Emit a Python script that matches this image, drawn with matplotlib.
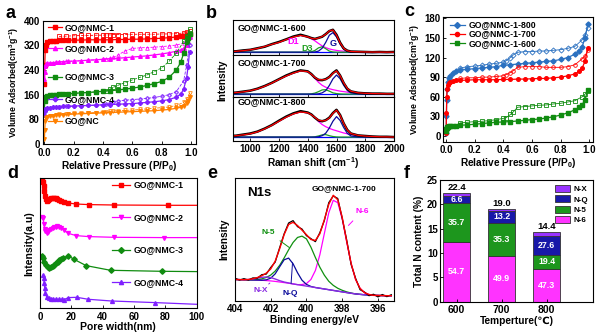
import matplotlib
matplotlib.use("Agg")
import matplotlib.pyplot as plt
import numpy as np

plt.rcParams['font.family'] = ['Liberation Sans', 'DejaVu Sans']
plt.rcParams['font.weight'] = 'bold'
plt.rcParams['axes.labelweight'] = 'bold'
plt.rcParams['mathtext.fontset'] = 'custom'
plt.rcParams['mathtext.rm'] = 'Liberation Sans:bold'
plt.rcParams['mathtext.it'] = 'Liberation Sans:bold'
plt.rcParams['mathtext.bf'] = 'Liberation Sans:bold'
plt.rcParams['mathtext.default'] = 'rm'
plt.rcParams['axes.linewidth'] = 0.8

# ---------------- (a) N2 isotherms ----------------
P_ADS = [0.001, 0.003, 0.006, 0.01, 0.02, 0.04, 0.06, 0.08, 0.1, 0.13, 0.16, 0.2, 0.25, 0.3, 0.35, 0.4,
         0.45, 0.5, 0.55, 0.6, 0.65, 0.7, 0.75, 0.8, 0.85, 0.9, 0.93, 0.95, 0.97, 0.98, 0.99]
P_DES = [0.99, 0.97, 0.95, 0.9, 0.85, 0.8, 0.75, 0.7, 0.65, 0.6, 0.55, 0.5, 0.47, 0.45, 0.42, 0.4,
         0.35, 0.3, 0.25, 0.2, 0.15, 0.1]
ADS_NMC1 = [195, 255, 305, 322, 330, 333, 334, 335, 336, 336, 337, 337, 337, 338, 338, 338, 338, 339, 339, 340,
            340, 341, 342, 343, 345, 347, 349, 351, 353, 355, 358]
DES_NMC1 = [368, 362, 360, 358, 357, 357, 356, 356, 356, 356, 355, 355, 355, 354, 354, 353, 353, 352, 352, 351,
            350, 349]
ADS_NMC2 = [210, 235, 252, 258, 262, 263, 264, 265, 266, 267, 268, 269, 270, 272, 273, 275, 277, 278, 280, 282,
            284, 286, 289, 292, 296, 301, 305, 310, 320, 332, 348]
DES_NMC2 = [350, 335, 327, 321, 318, 316, 314, 313, 312, 310, 302, 288, 281, 278, 276, 275, 273, 272, 270, 269,
            268, 266]
ADS_NMC3 = [110, 140, 150, 154, 157, 158, 159, 160, 161, 162, 163, 164, 166, 167, 169, 171, 173, 175, 178, 181,
            185, 190, 196, 203, 216, 240, 265, 295, 330, 345, 358]
DES_NMC3 = [372, 350, 333, 295, 268, 247, 235, 224, 216, 208, 199, 190, 184, 178, 172, 171, 169, 167, 166, 164,
            162, 161]
ADS_NMC4 = [95, 108, 113, 115, 117, 118, 119, 120, 121, 122, 122, 123, 124, 125, 126, 127, 128, 129, 130, 131,
            133, 135, 137, 140, 144, 152, 162, 178, 215, 250, 300]
DES_NMC4 = [320, 255, 205, 170, 160, 155, 151, 148, 146, 144, 142, 140, 137, 133, 129, 127, 126, 125, 124, 123,
            122, 121]
ADS_NC = [15, 45, 75, 85, 89, 91, 92, 93, 94, 95, 96, 97, 98, 99, 100, 101, 102, 103, 104, 105,
          106, 107, 108, 110, 112, 116, 119, 124, 132, 140, 152]
DES_NC = [165, 145, 135, 125, 120, 118, 116, 114, 112, 110, 109, 108, 107, 106, 105, 104, 102, 101, 100, 99,
          97, 96]
A_NAMES = ['GO@NMC-1', 'GO@NMC-2', 'GO@NMC-3', 'GO@NMC-4', 'GO@NC']
A_LABEL_Y = [378, 311, 218, 145, 75]

# ---------------- (b) Raman ----------------
RAMAN_X = [850, 900, 950, 1000, 1050, 1100, 1150, 1200, 1250, 1300, 1350, 1400, 1425, 1450, 1475, 1500,
           1525, 1550, 1575, 1600, 1625, 1650, 1675, 1700, 1750, 1800, 1850, 1900, 1950, 2000]
MEAS_600 = [0.03, 0.04, 0.08, 0.11, 0.18, 0.25, 0.37, 0.47, 0.59, 0.72, 0.80, 0.71, 0.65, 0.61, 0.66, 0.71,
            0.83, 0.97, 1.03, 0.80, 0.44, 0.18, 0.07, 0.03, 0.02, 0.01, 0.0, 0.01, 0.0, 0.01]
D1_600 = [0.02, 0.04, 0.07, 0.11, 0.17, 0.26, 0.36, 0.45, 0.58, 0.70, 0.77, 0.70, 0.62, 0.52, 0.40, 0.29,
          0.21, 0.15, 0.11, 0.08, 0.06, 0.045, 0.035, 0.027, 0.017, 0.01, 0.006, 0.004, 0.002, 0.0]
D3_600 = [0, 0, 0, 0, 0, 0, 0, 0, 0, 0, 0, 0.005, 0.02, 0.08, 0.20, 0.25,
          0.16, 0.05, 0.01, 0, 0, 0, 0, 0, 0, 0, 0, 0, 0, 0]
G_600 = [0, 0, 0, 0, 0, 0, 0, 0, 0, 0, 0, 0, 0, 0.01, 0.05, 0.18,
         0.45, 0.78, 0.90, 0.70, 0.37, 0.13, 0.03, 0.005, 0, 0, 0, 0, 0, 0]
MEAS_700 = [0.05, 0.06, 0.10, 0.14, 0.22, 0.33, 0.46, 0.61, 0.76, 0.88, 0.97, 0.93, 0.82, 0.67, 0.58, 0.57,
            0.61, 0.70, 0.86, 0.97, 0.76, 0.45, 0.22, 0.11, 0.05, 0.03, 0.02, 0.02, 0.01, 0.01]
D1_700 = [0.04, 0.06, 0.09, 0.14, 0.21, 0.32, 0.45, 0.60, 0.74, 0.86, 0.95, 0.92, 0.80, 0.64, 0.48, 0.36,
          0.28, 0.22, 0.18, 0.15, 0.12, 0.10, 0.08, 0.065, 0.045, 0.03, 0.02, 0.015, 0.01, 0.01]
D3_700 = [0, 0, 0, 0, 0, 0, 0, 0, 0, 0, 0, 0, 0.01, 0.04, 0.10, 0.17,
          0.18, 0.12, 0.05, 0.02, 0.005, 0, 0, 0, 0, 0, 0, 0, 0, 0]
G_700 = [0, 0, 0, 0, 0, 0, 0, 0, 0, 0, 0, 0, 0, 0, 0.01, 0.05,
         0.14, 0.35, 0.62, 0.78, 0.63, 0.36, 0.15, 0.05, 0.005, 0, 0, 0, 0, 0]
MEAS_800 = [0.04, 0.05, 0.09, 0.13, 0.20, 0.31, 0.44, 0.60, 0.75, 0.87, 0.95, 0.90, 0.83, 0.71, 0.61, 0.58,
            0.62, 0.71, 0.88, 1.00, 0.81, 0.50, 0.26, 0.13, 0.06, 0.04, 0.02, 0.01, 0.01, 0.0]
D1_800 = [0.03, 0.05, 0.08, 0.12, 0.19, 0.30, 0.43, 0.58, 0.73, 0.85, 0.92, 0.89, 0.82, 0.71, 0.57, 0.46,
          0.38, 0.32, 0.27, 0.23, 0.19, 0.15, 0.12, 0.09, 0.06, 0.035, 0.02, 0.01, 0.005, 0.0]
D3_800 = [0, 0, 0, 0, 0, 0, 0, 0, 0, 0, 0, 0, 0, 0.01, 0.04, 0.08,
          0.09, 0.05, 0.02, 0.005, 0, 0, 0, 0, 0, 0, 0, 0, 0, 0]
G_800 = [0, 0, 0, 0, 0, 0, 0, 0, 0, 0, 0, 0, 0, 0, 0.01, 0.05,
         0.14, 0.33, 0.58, 0.75, 0.61, 0.35, 0.14, 0.04, 0.003, 0, 0, 0, 0, 0]
B_NAMES = ['GO@NMC-1-600', 'GO@NMC-1-700', 'GO@NMC-1-800']

# ---------------- (c) isotherms vs temperature ----------------
P_ADS_C = [0.001, 0.003, 0.005, 0.008, 0.012, 0.02, 0.03, 0.05, 0.07, 0.1, 0.15, 0.2, 0.25, 0.3, 0.35, 0.4,
           0.45, 0.5, 0.55, 0.6, 0.65, 0.7, 0.75, 0.8, 0.85, 0.9, 0.93, 0.95, 0.97, 0.99]
ADS_800 = [5, 30, 55, 72, 82, 88, 92, 96, 99, 101, 102, 103, 104, 105, 106, 108, 109, 110, 111, 112,
           113, 114, 115, 117, 120, 125, 130, 136, 150, 171]
DES_800 = [165, 155, 147, 137, 134, 132, 131, 130, 130, 129, 129, 128, 124, 120, 115, 113, 111, 110, 108, 107,
           106, 104]
ADS_700 = [5, 35, 60, 72, 78, 81, 82, 84, 85, 85, 85.5, 86, 86, 86, 86, 86.5, 86.5, 87, 87, 87.5,
           88, 88, 89, 90, 92, 95, 99, 104, 114, 134]
DES_700 = [132, 122, 118, 109, 106, 105, 105, 105, 106, 106, 106, 105, 100, 97, 94, 92, 91, 90, 90, 89, 89, 88]
ADS_600 = [7, 11, 13, 14, 14.5, 15, 15.2, 15.5, 16, 16.5, 17, 18, 19, 20, 21, 21.5, 22, 23, 24, 25,
           26, 27.5, 29.5, 32, 35.5, 40, 44, 48, 55, 71]
DES_600 = [69, 64, 60, 54, 52, 50, 49, 47.5, 47, 46, 45, 44, 37, 33, 28, 27, 25, 23.5, 22.5, 22, 21, 20]
C_NAMES = ['GO@NMC-1-800', 'GO@NMC-1-700', 'GO@NMC-1-600']

# ---------------- (d) pore size distribution ----------------
PW_1 = [1.5, 2.0, 2.4, 2.8, 3.2, 3.7, 4.3, 5.0, 6.0, 7.0, 8.0, 9.0, 10.0, 11.0, 12.0, 13.5, 15.0, 18.0, 23.0,
        31.0, 47.0, 82.0, 100]
PSD_1 = [25.3, 23.7, 19.7, 14.3, 9.7, 6.0, 4.3, 5.0, 6.3, 7.0, 7.3, 7.3, 7.0, 6.3, 5.7, 4.7, 3.7, 2.3, 1.3,
         0.7, 0.3, 0.0, 0.0]
PW_2 = [1.5, 2.0, 2.5, 3.0, 3.5, 4.2, 5.0, 6.0, 7.0, 8.0, 9.0, 10.0, 11.0, 12.0, 13.5, 15.0, 18.0, 23.0,
        31.0, 47.0, 79.0, 100]
PSD_2 = [21.0, 19.3, 13.3, 8.7, 6.3, 5.0, 5.7, 7.3, 9.0, 10.0, 10.7, 11.0, 11.3, 11.0, 9.7, 7.7, 4.3, 2.0,
         1.0, 0.3, 0.0, 0.0]
PW_3 = [1.1, 1.7, 2.8, 3.8, 4.9, 6.0, 7.0, 8.1, 9.1, 10.2, 11.3, 12.3, 13.4, 14.9, 18.1, 21.7, 29.4, 45.0,
        77.7, 100]
PSD_3 = [16.0, 14.0, 10.0, 6.7, 5.0, 4.0, 4.3, 5.7, 7.0, 8.3, 10.0, 11.3, 12.7, 14.0, 15.7, 12.3, 6.0, 1.3,
         0.3, 0.0]
PW_4 = [2.1, 2.4, 2.7, 3.0, 3.5, 4.2, 5.5, 7.0, 8.5, 10.5, 12.3, 13.8, 15.3, 18.1, 23.4, 30.9, 45.7, 73.4, 100]
PSD_4 = [29.3, 26.0, 21.0, 16.0, 11.0, 7.7, 6.0, 5.3, 5.0, 5.0, 5.0, 5.0, 4.7, 6.7, 7.0, 5.0, 3.3, 1.7, 0.0]
D_NAMES = ['GO@NMC-1', 'GO@NMC-2', 'GO@NMC-3', 'GO@NMC-4']

# ---------------- (e) XPS N1s ----------------
BE = [404.0, 403.75, 403.5, 403.25, 403.0, 402.75, 402.5, 402.25, 402.0, 401.75, 401.5, 401.25, 401.0,
      400.75, 400.5, 400.25, 400.0, 399.75, 399.5, 399.25, 399.0, 398.75, 398.5, 398.25, 398.0, 397.75,
      397.5, 397.25, 397.0, 396.75, 396.5, 396.25, 396.0, 395.75, 395.5, 395.25]
XPS_MEAS = [18.5, 17.0, 18.2, 17.0, 18.8, 18.6, 21.5, 22.0, 27.5, 32.0, 44.0, 55.5, 64.5, 66.5, 61.5, 59.5,
            54.0, 51.5, 49.0, 56.5, 66.5, 81.5, 87.0, 85.0, 68.5, 50.5, 30.0, 18.5, 9.0, 7.0, 4.0, 5.2,
            3.0, 5.0, 3.2, 4.8]
XPS_BG = [17.5, 17.4, 17.3, 17.2, 17.1, 17.0, 16.8, 16.6, 16.3, 15.9, 15.4, 14.9, 14.4, 13.8, 13.2, 12.6,
          12.0, 11.4, 10.8, 10.2, 9.6, 9.0, 8.4, 7.8, 7.2, 6.6, 6.0, 5.5, 5.1, 4.8, 4.5, 4.3, 4.2, 4.1,
          4.0, 4.0]
N6 = [0, 0, 0, 0, 0, 0, 0, 0, 0, 0, 0, 0, 0, 0, 0, 0.7, 2.1, 6.1, 14.2, 27.9, 46.1, 64.1, 75.0, 73.7,
      60.8, 42.3, 24.7, 12.1, 5.0, 1.7, 0.5, 0, 0, 0, 0, 0]
N5 = [0, 0, 0, 0, 0.2, 0.5, 1.2, 2.6, 4.9, 8.6, 13.9, 20.5, 27.8, 34.5, 39.3, 41.0, 39.3, 33.0, 25.0, 17.5,
      11.5, 7.0, 4.2, 2.4, 1.3, 0.6, 0.2, 0, 0, 0, 0, 0, 0, 0, 0, 0]
NQ = [0, 0, 0, 0, 0, 0, 0.1, 0.6, 2.3, 6.3, 12.7, 19.0, 20.9, 16.8, 9.9, 4.3, 1.4, 0.3, 0, 0,
      0, 0, 0, 0, 0, 0, 0, 0, 0, 0, 0, 0, 0, 0, 0, 0]
NX = [0, 0, 0, 0.3, 0.8, 1.6, 2.5, 3.0, 2.8, 2.0, 1.1, 0.5, 0.2, 0, 0, 0, 0, 0, 0, 0,
      0, 0, 0, 0, 0, 0, 0, 0, 0, 0, 0, 0, 0, 0, 0, 0]

# ---------------- (f) N content ----------------
TEMPS = ['600', '700', '800']
TOTAL_N = [22.4, 19.0, 14.4]
PCT_N6 = [54.7, 49.9, 47.3]
PCT_N5 = [35.7, 35.3, 19.4]
PCT_NQ = [6.6, 13.2, 27.6]
PCT_NX = [3.0, 1.6, 5.7]

RED = '#ff0000'
MAG = '#ff00ff'
GRN = '#108c10'
PUR = '#7f1fff'
ORG = '#ff8000'
BLU = '#2a70c0'
NAVY = '#0a0a9a'

W, H = 600, 333
fig = plt.figure(figsize=(6, 3.33), dpi=100)


def add_px(l, t, r, b):
    return fig.add_axes([l / W, 1 - b / H, (r - l) / W, (b - t) / H])


def style(ax):
    ax.tick_params(labelsize=7, length=2, width=0.6, direction='in', pad=1.5)
    ax.tick_params(axis='x', pad=2.5)


def entry(ax, xs, y, color, marker, text, tx, fs=6.3, ms=3, transform=None):
    kw = {} if transform is None else {'transform': transform}
    ax.plot(xs, [y, y, y], color=color, lw=0.9, marker=marker, ms=ms, markevery=[1], clip_on=False, **kw)
    ax.text(tx, y, text, va='center', ha='left', fontsize=fs, **kw)


# ---- a
ax = add_px(43, 20.7, 196, 144)
a_sets = [(ADS_NMC1, DES_NMC1, RED, 's'), (ADS_NMC2, DES_NMC2, MAG, '^'), (ADS_NMC3, DES_NMC3, GRN, 's'),
          (ADS_NMC4, DES_NMC4, PUR, 'P'), (ADS_NC, DES_NC, ORG, 'v')]
for (ads, des, c, m), name, ly in zip(a_sets, A_NAMES, A_LABEL_Y):
    ax.plot(P_ADS, ads, color=c, marker=m, ms=2.6, lw=0.9)
    ax.plot(P_DES, des, color=c, marker=m, ms=2.6, lw=0.6, ls='--', mfc='none', mew=0.6)
    entry(ax, [0.027, 0.072, 0.118], ly, c, m, name, 0.141)
ax.set_xlim(-0.009, 1.034)
ax.set_ylim(0, 400)
ax.set_yticks(range(0, 401, 80))
ax.set_xticks([0, 0.2, 0.4, 0.6, 0.8, 1.0])
ax.set_xticklabels(['0.0', '0.2', '0.4', '0.6', '0.8', '1.0'])
ax.set_xlabel('Relative Pressure (P/P$_0$)', fontsize=7.3, labelpad=0.3)
ax.set_ylabel('Volume Adsorbed(cm$^3$g$^{-1}$)', fontsize=6.3, labelpad=2)
style(ax)
ax.tick_params(axis='x', pad=3.2)
ax.tick_params(axis='y', pad=2.2)

# ---- b
b_sets = [(MEAS_600, D1_600, D3_600, G_600, (-0.13, 1.48), 0.79),
          (MEAS_700, D1_700, D3_700, G_700, (-0.12, 1.60), 0.82),
          (MEAS_800, D1_800, D3_800, G_800, (-0.145, 1.47), 0.89)]
b_rows = [(20, 55), (55, 97), (97, 141)]
rx = np.array(RAMAN_X)
for i, ((meas, d1, d3, g, ylim, ty), (t, bt), name) in enumerate(zip(b_sets, b_rows, B_NAMES)):
    bx = add_px(233, t, 394, bt)
    fit = np.array(d1) + np.array(d3) + np.array(g)
    bx.axhline(0, color='#0000ff', lw=0.9)
    bx.plot(rx, d1, color=MAG, lw=0.9)
    bx.plot(rx, d3, color='#20a020', lw=0.9)
    bx.plot(rx, g, color=NAVY, lw=0.9)
    bx.plot(rx, meas, color='black', lw=1.8)
    bx.plot(rx, fit, color=RED, lw=0.9)
    bx.set_xlim(880, 2000)
    bx.set_ylim(*ylim)
    bx.set_yticks([])
    bx.set_xticks(range(1000, 2001, 200))
    bx.text(0.03, ty, name, transform=bx.transAxes, fontsize=6.4, va='center')
    style(bx)
    if i == 0:
        bx.text(1300, 0.5, 'D1', color=MAG, fontsize=6.5, ha='center', va='center')
        bx.text(1395, 0.16, 'D3', color='#20a020', fontsize=6.5, ha='center', va='center')
        bx.text(1574, 0.41, 'G', color=NAVY, fontsize=6.5, ha='center', va='center')
    if i < 2:
        bx.tick_params(labelbottom=False)
    else:
        bx.set_xlabel('Raman shift (cm$^{-1}$)', fontsize=7.3, labelpad=0.5)
fig.text(222 / W, 1 - 80.5 / H, 'Intensity', rotation=90, ha='center', va='center', fontsize=7.3)

# ---- c
cx = add_px(442.7, 16.7, 593.3, 141.7)
c_sets = [(ADS_800, DES_800, BLU, 'D'), (ADS_700, DES_700, RED, 'o'), (ADS_600, DES_600, GRN, 's')]
for (ads, des, c, m), name, ly in zip(c_sets, C_NAMES, [0.934, 0.862, 0.787]):
    cx.plot(P_ADS_C, ads, color=c, marker=m, ms=2.6, lw=0.9)
    cx.plot(P_DES, des, color=c, marker=m, ms=2.6, lw=0.6, mfc='none', mew=0.6)
    entry(cx, [0.048, 0.097, 0.148], ly, c, m, name, 0.17, transform=cx.transAxes)
cx.set_xlim(-0.023, 1.028)
cx.set_ylim(-8.7, 182.4)
cx.set_yticks(range(0, 181, 30))
cx.set_xticks([0, 0.2, 0.4, 0.6, 0.8, 1.0])
cx.set_xticklabels(['0.0', '0.2', '0.4', '0.6', '0.8', '1.0'])
cx.set_xlabel('Relative Pressure (P/P$_0$)', fontsize=7.3, labelpad=0.5)
cx.set_ylabel('Volume Adsorbed(cm$^3$g$^{-1}$)', fontsize=6.3, labelpad=2)
style(cx)

# ---- d
dx = add_px(40, 178.3, 196.7, 308.3)
d_sets = [(PW_1, PSD_1, RED, 's', 103), (PW_2, PSD_2, MAG, 'v', 70.7),
          (PW_3, PSD_3, GRN, 'D', 36.7), (PW_4, PSD_4, PUR, '^', 4)]
for (pw, psd, c, m, off), name, ly in zip(d_sets, D_NAMES, [123.3, 91, 58.3, 26]):
    dx.plot(pw, np.array(psd) + off, color=c, marker=m, ms=2.8, lw=0.9, markevery=slice(0, -1))
    entry(dx, [45.7, 51.5, 57.4], ly, c, m, name, 59.6)
dx.set_xlim(0, 100)
dx.set_ylim(0, 130)
dx.set_yticks([])
dx.set_xticks(range(0, 101, 20))
dx.set_xlabel('Pore width(nm)', fontsize=7.5, labelpad=0.5)
dx.set_ylabel('Intensity(a.u)', fontsize=7.5, labelpad=4)
style(dx)

# ---- e
ex = add_px(235, 178, 394, 300.5)
bg = np.array(XPS_BG)
ex.plot(BE, bg + np.array(N6), color=MAG, lw=0.9)
ex.plot(BE, bg + np.array(N5), color='#109010', lw=0.9)
ex.plot(BE, bg + np.array(NQ), color=NAVY, lw=0.9)
ex.plot(BE, bg + np.array(NX), color='#8a2be2', lw=1.0)
ex.plot(BE, XPS_MEAS, color='black', lw=0.9)
ex.plot(BE, bg + np.array(N6) + np.array(N5) + np.array(NQ) + np.array(NX), color=RED, lw=1.0)
ex.set_xlim(404, 395.1)
ex.set_ylim(0, 102)
ex.set_yticks([])
ex.set_xticks([404, 402, 400, 398, 396])
ex.set_xlabel('Binding energy/eV', fontsize=7.3, labelpad=0.5)
ex.set_ylabel('Intensity', fontsize=7.3, labelpad=4)
ex.text(0.075, 0.88, 'N1s', transform=ex.transAxes, fontsize=9.5, va='center')
ex.text(0.685, 0.915, 'GO@NMC-1-700', transform=ex.transAxes, fontsize=6.0, ha='center', va='center')
ex.annotate('N-6', xy=(397.65, 62.5), xytext=(396.9, 74), color=MAG, fontsize=6, ha='center', va='center',
            arrowprops=dict(arrowstyle='-', color=MAG, lw=0.7, shrinkA=3, shrinkB=0))
ex.annotate('N-5', xy=(400.95, 44), xytext=(402.15, 57), color='#109010', fontsize=6, ha='center',
            va='center', arrowprops=dict(arrowstyle='-', color='#109010', lw=0.7, shrinkA=3, shrinkB=0))
ex.annotate('N-Q', xy=(400.78, 31.5), xytext=(400.9, 5.5), color=NAVY, fontsize=6, ha='center',
            va='center', arrowprops=dict(arrowstyle='-', color=NAVY, lw=0.7, shrinkA=3, shrinkB=0))
ex.annotate('N-X', xy=(402.05, 14.5), xytext=(402.55, 8.5), color='#8a2be2', fontsize=6, ha='center',
            va='center', arrowprops=dict(arrowstyle='-', color='#8a2be2', lw=0.7, shrinkA=3, shrinkB=0))
style(ex)

# ---- f
fx = add_px(440, 180, 593, 301.7)
pos = np.arange(len(TEMPS))
tot = np.array(TOTAL_N)
parts = [(PCT_N6, '#ff33ff', 'N-6'), (PCT_N5, '#1d961d', 'N-5'), (PCT_NQ, '#1818a8', 'N-Q'),
         (PCT_NX, '#9933ff', 'N-X')]
bottom = np.zeros(len(TEMPS))
handles = []
for pct, c, lab in parts:
    h = tot * np.array(pct) / 100
    bars = fx.bar(pos, h, 0.59, bottom=bottom, color=c, edgecolor='#333333', lw=0.6, label=lab)
    handles.append(bars)
    if lab != 'N-X':
        for xi, b0, hi, p in zip(pos, bottom, h, pct):
            fx.text(xi, b0 + hi / 2, f'{p:.1f}', color='white', fontsize=6.4, ha='center', va='center')
    bottom = bottom + h
for xi, t in zip(pos, TOTAL_N):
    fx.text(xi, t + 0.2, f'{t:.1f}', fontsize=6.8, ha='center', va='bottom')
fx.set_xlim(-0.37, 3.03)
fx.set_ylim(0, 25)
fx.set_xticks(pos)
fx.set_xticklabels(TEMPS)
fx.set_yticks(range(0, 26, 5))
fx.set_xlabel('Temperture(℃)', fontsize=7.3, labelpad=0.5)
fx.set_ylabel('Total N content (%)', fontsize=7.3, labelpad=2)
fx.legend(handles[::-1], [p[2] for p in parts][::-1], loc='upper right', fontsize=5.8, frameon=False,
          handlelength=1.9, handleheight=1.0, labelspacing=0.25, borderaxespad=0.2, handletextpad=0.4)
style(fx)
fx.tick_params(axis='x', labelsize=7.5)

# panel letters
for letter, (x, y) in zip('abcdef', [(6, 18), (206, 18), (404, 16), (7, 178), (207, 178), (404, 178)]):
    fig.text(x / W, 1 - y / H, letter, fontsize=13, fontweight='bold', va='baseline')

fig.savefig('out.png', dpi=100)
